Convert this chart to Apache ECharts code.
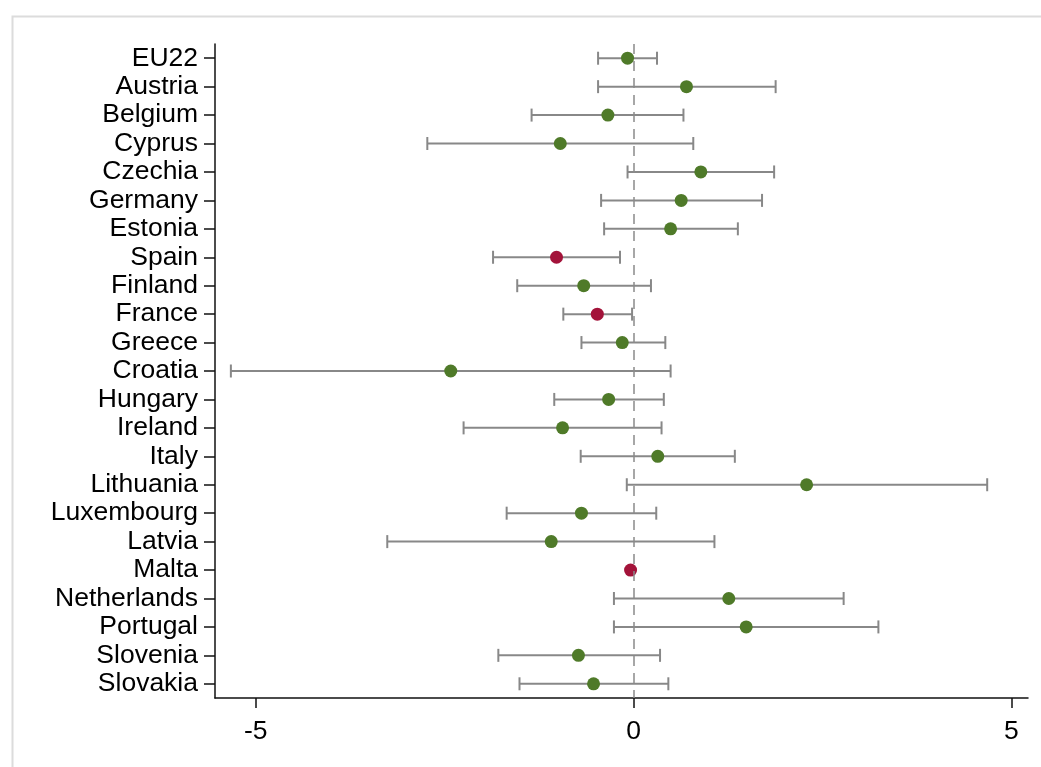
<!DOCTYPE html>
<html>
<head>
<meta charset="utf-8">
<script src="https://cdn.jsdelivr.net/npm/echarts@6/dist/echarts.min.js"></script>
<style>
  html, body { margin: 0; padding: 0; background: #fff; }
  #chart { width: 1041px; height: 767px; }
</style>
</head>
<body>
<div id="chart"></div>
<script>
// Country estimates with 95% confidence bounds
const countries = ['EU22', 'Austria', 'Belgium', 'Cyprus', 'Czechia', 'Germany', 'Estonia', 'Spain',
  'Finland', 'France', 'Greece', 'Croatia', 'Hungary', 'Ireland', 'Italy', 'Lithuania',
  'Luxembourg', 'Latvia', 'Malta', 'Netherlands', 'Portugal', 'Slovenia', 'Slovakia'];
const estimate = [-0.08, 0.70, -0.34, -0.97, 0.89, 0.63, 0.49, -1.02,
  -0.66, -0.48, -0.15, -2.42, -0.33, -0.94, 0.32, 2.29,
  -0.69, -1.09, -0.04, 1.26, 1.49, -0.73, -0.53];
const lower = [-0.47, -0.47, -1.35, -2.73, -0.08, -0.43, -0.39, -1.86,
  -1.54, -0.93, -0.69, -5.33, -1.05, -2.25, -0.70, -0.09,
  -1.68, -3.26, null, -0.26, -0.26, -1.79, -1.51];
const upper = [0.31, 1.88, 0.66, 0.79, 1.86, 1.70, 1.38, -0.18,
  0.23, -0.02, 0.42, 0.49, 0.40, 0.37, 1.34, 4.68,
  0.30, 1.07, null, 2.78, 3.24, 0.35, 0.46];
// significance flag: 1 = significant negative effect
const significant = [0, 0, 0, 0, 0, 0, 0, 1, 0, 1, 0, 0, 0, 0, 0, 0, 0, 0, 1, 0, 0, 0, 0];
const xTicks = [-5, 0, 5];

const GREEN = '#4f7a29';
const RED = '#a3133a';
const BAR = '#888888';
const FONT = '"Liberation Sans", Arial, sans-serif';

const barData = [];
countries.forEach((c, i) => {
  if (lower[i] !== null && upper[i] !== null) barData.push([lower[i], upper[i], i]);
});
const pointData = estimate.map((v, i) => ({
  value: [v, i],
  itemStyle: { color: significant[i] ? RED : GREEN, opacity: 1 }
}));

const chart = echarts.init(document.getElementById('chart'), null, { renderer: 'canvas' });
chart.setOption({
  animation: false,
  backgroundColor: '#fff',
  graphic: [{
    type: 'rect',
    left: 10, top: 14,
    shape: { width: 1100, height: 800 },
    style: { fill: 'none', stroke: '#dcdcdc', lineWidth: 2 },
    silent: true, z: -10
  }],
  grid: { left: 215, right: 13, top: 44, bottom: 69, containLabel: false },
  xAxis: {
    type: 'value',
    min: -5.54, max: 5.22,
    splitLine: { show: false },
    axisLine: { show: true, onZero: false, lineStyle: { color: '#111', width: 1.5 } },
    axisTick: { show: true, length: 10, lineStyle: { color: '#111', width: 1.5 }, customValues: xTicks },
    axisLabel: { show: true, customValues: xTicks, fontSize: 26.5, color: '#000', fontFamily: FONT, margin: 20 }
  },
  yAxis: {
    type: 'category',
    data: countries,
    inverse: true,
    axisLine: { show: true, onZero: false, lineStyle: { color: '#111', width: 1.5 } },
    axisTick: { show: true, alignWithLabel: true, length: 11, lineStyle: { color: '#111', width: 1.5 } },
    axisLabel: { show: true, fontSize: 26.5, color: '#000', fontFamily: FONT, margin: 17, interval: 0 },
    splitLine: { show: false }
  },
  series: [
    {
      type: 'custom',
      name: 'CI',
      data: barData,
      encode: { x: [0, 1], y: 2 },
      z: 2,
      renderItem: function (params, api) {
        const idx = api.value(2);
        const a = api.coord([api.value(0), idx]);
        const b = api.coord([api.value(1), idx]);
        const h = 6.5;
        const style = { stroke: BAR, lineWidth: 2, fill: 'none' };
        return {
          type: 'group',
          children: [
            { type: 'line', shape: { x1: a[0], y1: a[1], x2: b[0], y2: b[1] }, style: style },
            { type: 'line', shape: { x1: a[0], y1: a[1] - h, x2: a[0], y2: a[1] + h }, style: style },
            { type: 'line', shape: { x1: b[0], y1: b[1] - h, x2: b[0], y2: b[1] + h }, style: style }
          ]
        };
      }
    },
    {
      type: 'scatter',
      name: 'Estimate',
      data: pointData,
      symbol: 'circle',
      symbolSize: 13,
      z: 3,
      markLine: {
        silent: true,
        symbol: 'none',
        label: { show: false },
        lineStyle: { color: '#8a8a8a', type: [10, 7], width: 1.5 },
        data: [{ xAxis: 0 }]
      }
    }
  ]
});
</script>
</body>
</html>
